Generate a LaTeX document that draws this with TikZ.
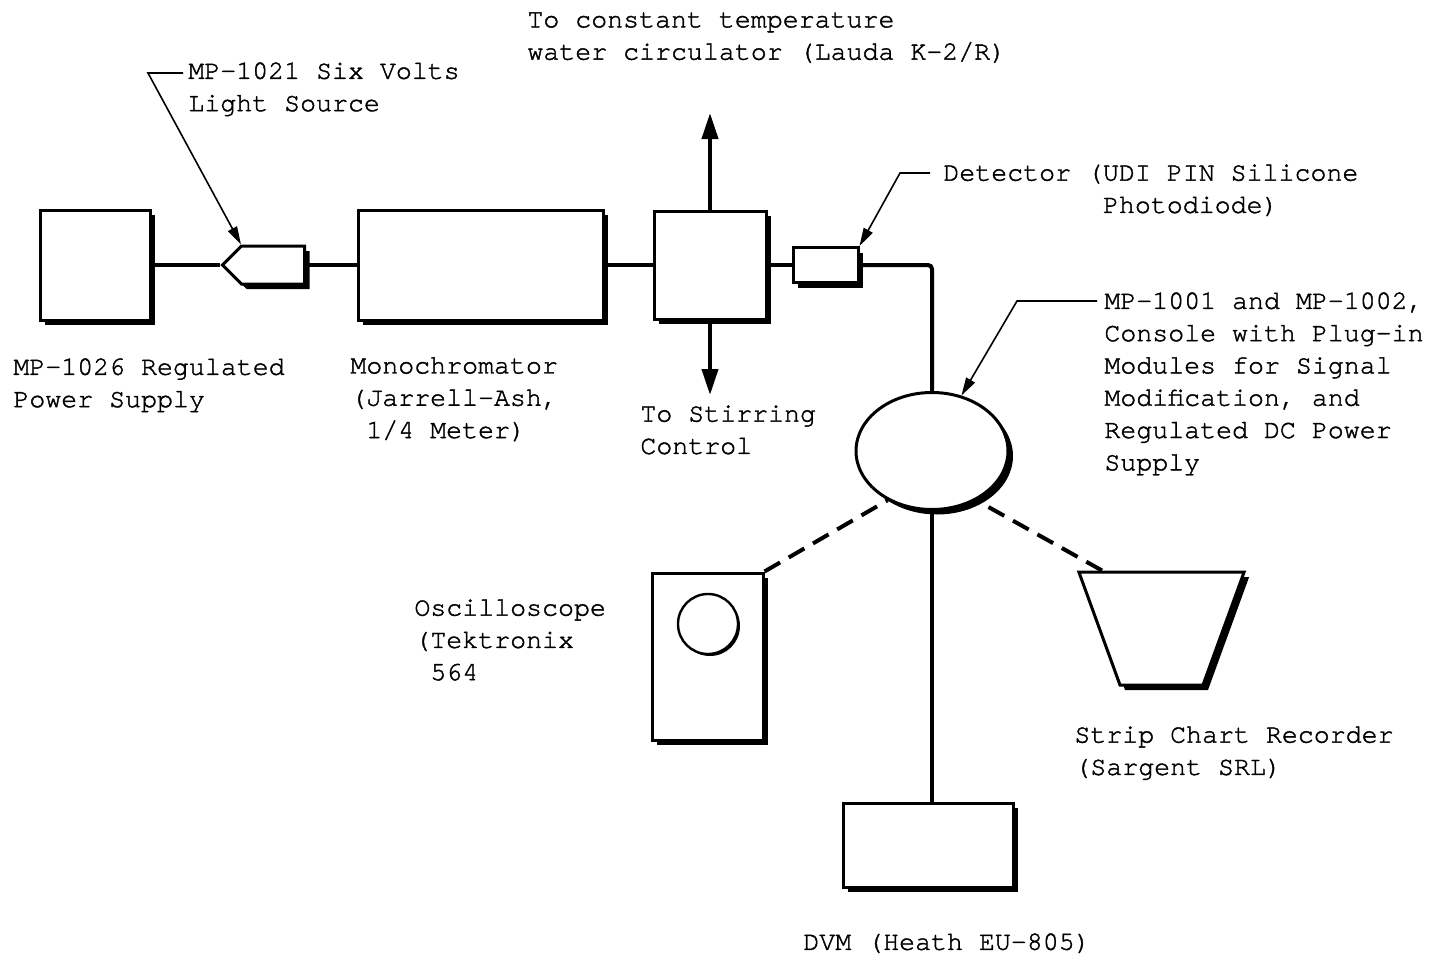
\documentclass[tikz,border=0pt]{standalone}
\usepackage{fontspec}
\setmonofont{TeX Gyre Cursor}[FakeBold=1.5]
\usetikzlibrary{arrows.meta,shapes.geometric,shapes.symbols,shadows}

\begin{document}
\begin{tikzpicture}[x=0.5pt,y=-0.5pt,
    boxshadow/.style={drop shadow={fill=black,opacity=1,shadow xshift=2.5pt,shadow yshift=-2.5pt}},
    unit/.style={draw,line width=1.5pt,fill=white,inner sep=0pt,boxshadow},
    txt/.style={anchor=north west,inner sep=0pt,align=left,font=\ttfamily\fontsize{13.3}{16.15}\selectfont},
    wire/.style={line width=2pt},
    link/.style={line width=2pt,dash pattern=on 9pt off 5pt},
    flow/.style={line width=2pt,-{Triangle[length=13pt,width=8pt]}},
    leader/.style={line width=0.8pt,-{Triangle[length=9pt,width=5pt]}}
  ]
  \useasboundingbox (0,0) rectangle (1432,958);

  % optical bench
  \node[unit,minimum width=55pt,minimum height=55pt] (psu) at (95,265) {};
  \node[unit,signal,signal to=west,minimum width=41pt,minimum height=19pt] (lamp) at (273,265) {};
  \node[unit,minimum width=122.5pt,minimum height=55pt] (mono) at (480.5,265) {};
  \node[unit,minimum width=56pt,minimum height=54pt] (cell) at (710,265) {};
  \node[unit,minimum width=32.5pt,minimum height=17.5pt] (det) at (825.5,265) {};
  \coordinate (circ) at (710,113);
  \coordinate (stir) at (710,395);

  % read-out side
  \node[unit,ellipse,minimum width=76pt,minimum height=58.5pt] (console) at (932,451) {};
  \node[unit,minimum width=55.5pt,minimum height=83.5pt] (scope) at (707.5,656.5) {};
  \node[draw,circle,line width=1.2pt,fill=white,inner sep=0pt,minimum size=30pt,
        drop shadow={fill=black,opacity=1,shadow xshift=1pt,shadow yshift=-1pt}] (screen) at (708,624) {};
  \node[unit,trapezium,inner xsep=20.75pt,inner ysep=28.25pt,trapezium angle=70,
        shape border rotate=180] (rec) at (1161.5,628.5) {};
  \node[unit,minimum width=85pt,minimum height=42pt] (dvm) at (928,845) {};

  \draw[wire] (psu) -- (lamp);
  \draw[wire] (lamp) -- (mono);
  \draw[wire] (mono) -- (cell);
  \draw[wire] (cell) -- (det);
  \draw[wire,rounded corners=2pt] (det.east) -| (console.north);
  \draw[wire] (console.south) -- (console.south |- dvm.north);
  \draw[flow] (cell.north) -- (circ);
  \draw[flow] (cell.south) -- (stir);
  \draw[link] (scope.north east) -- (console.228);
  \draw[link] ([xshift=-29.75pt]rec.north) -- (console.312);

  % labels
  \node[txt] (templbl) at (527,12) {To constant temperature\\water circulator (Lauda K-2/R)};
  \node[txt] (lamplbl) at (188,62) {MP-1021 Six Volts\\Light Source};
  \node[txt] (detlbl) at (943,164) {Detector (UDI PIN Silicone\\\hphantom{Detector (}Photodiode)};
  \node[txt] (psulbl) at (13,358) {MP-1026 Regulated\\Power Supply};
  \node[txt] (monolbl) at (350,357) {Monochromator\\(Jarrell-Ash,\\\hphantom{(}1/4 Meter)};
  \node[txt] (stirlbl) at (640,405) {To Stirring\\Control};
  \node[txt] (conlbl) at (1104,292) {MP-1001 and MP-1002,\\Console with Plug-in\\Modules for Signal\\Modification, and\\Regulated DC Power\\Supply};
  \node[txt] (scopelbl) at (414,599) {Oscilloscope\\(Tektronix\\\hphantom{(}564};
  \node[txt] (reclbl) at (1074,726) {Strip Chart Recorder\\(Sargent SRL)};
  \node[txt] (dvmlbl) at (803,933) {DVM (Heath EU-805)};

  \draw[leader] ([shift={(-5,11)}]lamplbl.north west) -- ++(-35,0) -- ([xshift=-16pt]lamp.north);
  \draw[leader] ([shift={(-13,9)}]detlbl.north west) -- ++(-30,0) -- (det.north east);
  \draw[leader] ([shift={(-7,9)}]conlbl.north west) -- ++(-80,0) -- (console.62);
\end{tikzpicture}
\end{document}
